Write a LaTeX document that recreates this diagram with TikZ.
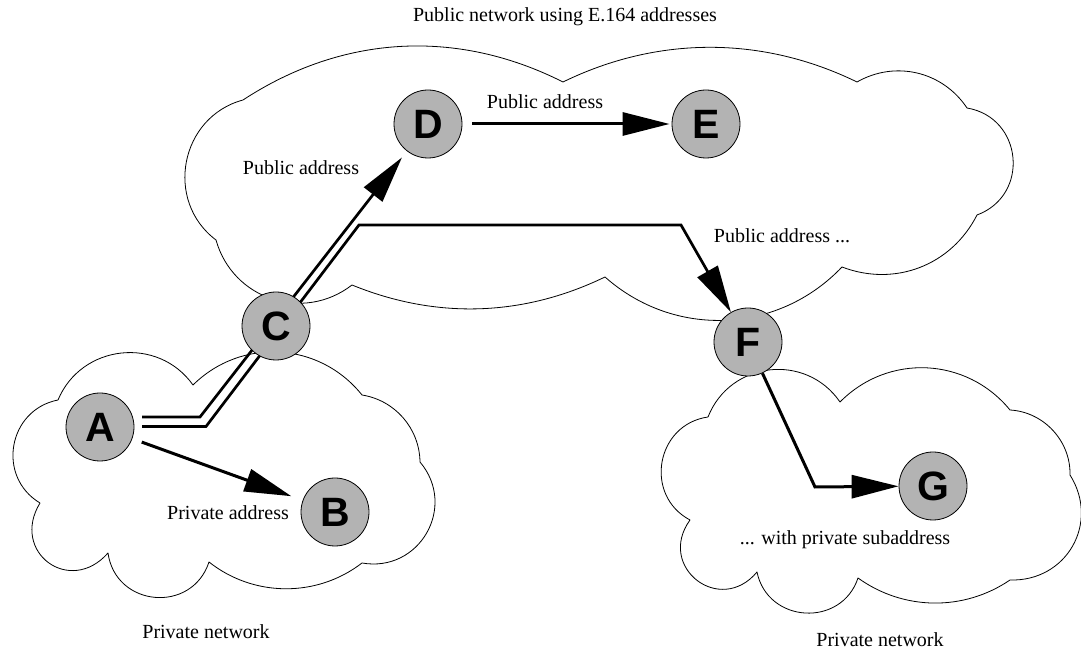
\documentclass[tikz,border=0pt]{standalone}
\usepackage{fontspec}
\setmainfont{Liberation Serif}
\newfontfamily\nodefont{Liberation Sans}
\usetikzlibrary{arrows.meta,backgrounds}
\definecolor{nodegray}{RGB}{179,179,179}
\begin{document}
\begin{tikzpicture}[x=1pt,y=1pt,
  station/.style={circle, draw=black, line width=0.8pt, fill=nodegray, minimum size=68pt, inner sep=0pt,
    font=\nodefont\bfseries\fontsize{41}{41}\selectfont},
  cloudline/.style={line width=0.8pt, line join=round},
  arr/.style={line width=3pt, -{Triangle[length=47pt,width=23pt]}},
  strand/.style={line width=2.7pt},
  lbl/.style={font=\fontsize{20}{24}\selectfont, inner sep=0pt}]
\useasboundingbox (0,0) rectangle (1081,652);

% stations
\node[station] (A) at (100,225) {A};
\node[station] (B) at (335,140) {B};
\node[station] (C) at (276,326) {C};
\node[station] (D) at (428,528) {D};
\node[station] (E) at (706,528) {E};
\node[station] (F) at (748,310) {F};
\node[station] (G) at (933,166) {G};

% bend points
\coordinate (s1a) at (142,235);
\coordinate (s1b) at (200,235);
\coordinate (s2a) at (142,225.5);
\coordinate (s2b) at (206,225.5);
\coordinate (s2c) at (359,427);
\coordinate (s2d) at (681,427);
\coordinate (fg) at (815,165);

\begin{pgfonlayer}{background}
% public cloud
\draw[cloudline] (243,552) to[bend left=30, looseness=0.95] (563,570)
  to[bend left=26, looseness=0.92] (857,570)
  to[bend left=43, looseness=1.0] (967,544)
  to[bend left=75, looseness=1.35] (977,437)
  to[bend left=42, looseness=1.0] (842,385)
  to[bend left=44, looseness=1.0] (605,375)
  to[bend left=24, looseness=0.92] (352,367)
  to[bend left=56, looseness=1.1] (216,412)
  to[bend left=64, looseness=1.17] (243,552);
% left private cloud
\draw[cloudline] (58,252) to[bend left=61, looseness=1.14] (193,267)
  to[bend left=48, looseness=1.03] (362,257)
  to[bend left=40, looseness=0.97] (420,190)
  to[bend left=70, looseness=1.28] (362,89)
  to[bend left=38, looseness=0.95] (209,90)
  to[bend left=77, looseness=1.38] (108,99)
  to[bend left=85, looseness=1.75] (40,149)
  to[bend left=69, looseness=1.25] (58,252);
% right private cloud
\draw[cloudline] (708,235) to[bend left=62, looseness=1.16] (840,250)
  to[bend left=48, looseness=1.03] (1010,242)
  to[bend left=44, looseness=0.98] (1070,177)
  to[bend left=62, looseness=1.2] (1010,72)
  to[bend left=35, looseness=0.94] (858,74)
  to[bend left=75, looseness=1.33] (757,80)
  to[bend left=88, looseness=1.75] (690,132)
  to[bend left=72, looseness=1.29] (708,235);

% connectors
\draw[arr, strand, shorten >=8pt] (s1a) -- (s1b) -- (D);
\draw[arr, strand] (s2a) -- (s2b) -- (s2c) -- (s2d) -- (F);
\draw[arr, shorten <=10pt, shorten >=12pt] (A) -- (B);
\draw[arr, shorten <=10pt, shorten >=2pt] (D) -- (E);
\draw[arr] (F) -- (fg) -- (G);
\end{pgfonlayer}

% labels
\node[lbl] (title) at (565,635) {Public network using E.164 addresses};
\node[lbl] (lab1) at (228,139) {Private address};
\node[lbl] (lab2) at (301,484) {Public address};
\node[lbl] (lab3) at (545,550) {Public address};
\node[lbl] (lab4) at (782,416) {Public address ...};
\node[lbl] (lab5) at (845,112) {... with private subaddress};
\node[lbl] (lab6) at (880,12) {Private network};
\node[lbl] (lab7) at (206,20) {Private network};
\end{tikzpicture}
\end{document}
